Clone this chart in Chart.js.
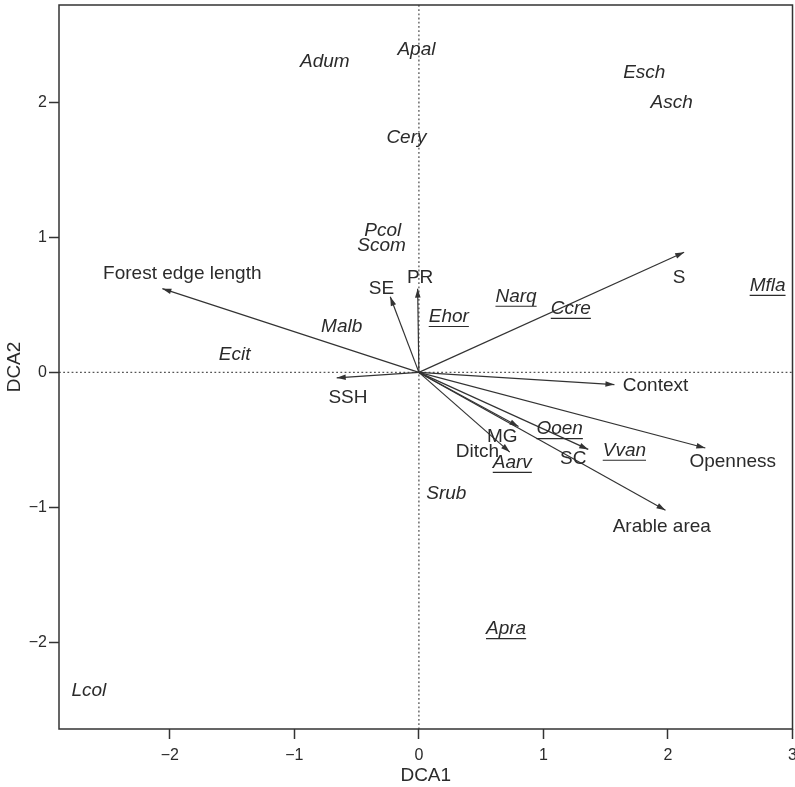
<!DOCTYPE html>
<html>
<head>
<meta charset="utf-8">
<script src="https://cdn.jsdelivr.net/npm/chart.js@4/dist/chart.umd.min.js"></script>
<style>
  body { margin: 0; background: #fff; }
  #wrap { width: 795px; height: 787px; }
</style>
</head>
<body>
<div id="wrap"><canvas id="biplot"></canvas></div>
<script>
// species scores (DCA1, DCA2)
const speciesNames = ['Adum', 'Apal', 'Cery', 'Esch', 'Asch', 'Pcol', 'Scom', 'Malb', 'Ecit', 'Ehor',
    'Narq', 'Ccre', 'Mfla', 'Ooen', 'Vvan', 'Aarv', 'Srub', 'Apra', 'Lcol'];
const speciesX = [-0.755, -0.02, -0.10, 1.81, 2.03, -0.29, -0.30, -0.62, -1.48, 0.24,
    0.78, 1.22, 2.80, 1.13, 1.65, 0.75, 0.22, 0.70, -2.65];
const speciesY = [2.30, 2.39, 1.74, 2.22, 2.00, 1.05, 0.94, 0.34, 0.13, 0.41,
    0.56, 0.47, 0.64, -0.42, -0.58, -0.67, -0.90, -1.90, -2.36];
const underlined = ['Ehor', 'Narq', 'Ccre', 'Mfla', 'Ooen', 'Vvan', 'Aarv', 'Apra'];

// environmental vectors: arrow tips and label spots
const envNames = ['Forest edge length', 'SE', 'PR', 'S', 'Context', 'Openness', 'SC', 'MG', 'Ditch', 'Arable area', 'SSH'];
const envX = [-2.06, -0.23, -0.01, 2.13, 1.57, 2.30, 1.36, 0.80, 0.73, 1.98, -0.66];
const envY = [0.62, 0.56, 0.62, 0.89, -0.09, -0.56, -0.57, -0.40, -0.59, -1.02, -0.04];
const envLabelX = [-1.90, -0.30, 0.01, 2.09, 1.90, 2.52, 1.24, 0.67, 0.47, 1.95, -0.57];
const envLabelY = [0.73, 0.62, 0.70, 0.70, -0.10, -0.66, -0.64, -0.48, -0.59, -1.14, -0.19];

const xTicks = [-2, -1, 0, 1, 2, 3];
const yTicks = [-2, -1, 0, 1, 2];

const ink = '#2b2b2b';
const minus = v => v < 0 ? '\u2212' + Math.abs(v) : String(v);

let datasets = envNames.map((name, i) => ({
    label: name,
    data: [{x: 0, y: 0}, {x: envX[i], y: envY[i]}],
    showLine: true,
    borderColor: '#333',
    borderWidth: 1.2,
    pointRadius: 0
}));
datasets.push({
    label: 'species',
    data: speciesX.map((x, i) => ({x: x, y: speciesY[i]})),
    pointRadius: 0,
    showLine: false
});

const biplotDecor = {
    id: 'biplotDecor',
    beforeDatasetsDraw(chart) {
        const {ctx, chartArea: a, scales: {x, y}} = chart;
        ctx.save();
        ctx.strokeStyle = '#555';
        ctx.lineWidth = 1.3;
        ctx.setLineDash([1.8, 2.4]);
        ctx.beginPath();
        ctx.moveTo(a.left, y.getPixelForValue(0));
        ctx.lineTo(a.right, y.getPixelForValue(0));
        ctx.moveTo(x.getPixelForValue(0), a.top);
        ctx.lineTo(x.getPixelForValue(0), a.bottom);
        ctx.stroke();
        ctx.restore();
    },
    afterDatasetsDraw(chart) {
        const {ctx, chartArea: a, scales: {x, y}} = chart;
        ctx.save();
        // arrow heads
        const ox = x.getPixelForValue(0), oy = y.getPixelForValue(0);
        ctx.fillStyle = '#333';
        envNames.forEach((n, i) => {
            const tx = x.getPixelForValue(envX[i]), ty = y.getPixelForValue(envY[i]);
            const ang = Math.atan2(ty - oy, tx - ox);
            const len = 9, half = 2.8;
            ctx.beginPath();
            ctx.moveTo(tx, ty);
            ctx.lineTo(tx - len * Math.cos(ang) + half * Math.sin(ang), ty - len * Math.sin(ang) - half * Math.cos(ang));
            ctx.lineTo(tx - len * Math.cos(ang) - half * Math.sin(ang), ty - len * Math.sin(ang) + half * Math.cos(ang));
            ctx.closePath();
            ctx.fill();
        });
        // labels
        ctx.fillStyle = ink;
        ctx.textAlign = 'center';
        ctx.textBaseline = 'middle';
        ctx.font = '19px "Liberation Sans", Arial, sans-serif';
        envNames.forEach((n, i) => {
            ctx.fillText(n, x.getPixelForValue(envLabelX[i]), y.getPixelForValue(envLabelY[i]));
        });
        ctx.font = 'italic 19px "Liberation Sans", Arial, sans-serif';
        ctx.strokeStyle = ink;
        ctx.lineWidth = 1.2;
        speciesNames.forEach((n, i) => {
            const px = x.getPixelForValue(speciesX[i]), py = y.getPixelForValue(speciesY[i]);
            ctx.fillText(n, px, py);
            if (underlined.includes(n)) {
                const w = ctx.measureText(n).width;
                ctx.beginPath();
                ctx.moveTo(px - w / 2, py + 9.5);
                ctx.lineTo(px + w / 2, py + 9.5);
                ctx.stroke();
            }
        });
        // box
        ctx.strokeStyle = '#333';
        ctx.lineWidth = 1.5;
        ctx.strokeRect(a.left, a.top, a.right - a.left, a.bottom - a.top);
        ctx.restore();
    }
};

new Chart('biplot', {
    type: 'scatter',
    data: {datasets: datasets},
    plugins: [biplotDecor],
    options: {
        responsive: true,
        maintainAspectRatio: false,
        animation: false,
        layout: {padding: {top: 5, right: 2.5, left: 0, bottom: 0}},
        plugins: {legend: {display: false}, tooltip: {enabled: false}},
        scales: {
            x: {
                type: 'linear', min: -2.89, max: 3.0,
                afterBuildTicks: s => { s.ticks = xTicks.map(v => ({value: v})); },
                afterFit: s => { s.height = 58; s.paddingLeft = 0; s.paddingRight = 0; },
                grid: {drawOnChartArea: false, drawTicks: true, tickLength: 10, tickColor: '#333', tickWidth: 1.5},
                border: {display: false},
                ticks: {color: ink, font: {size: 16, family: '"Liberation Sans", Arial'}, padding: 7,
                    maxRotation: 0, autoSkip: false, callback: v => minus(v)},
                title: {display: true, text: 'DCA1', color: ink, font: {size: 19, family: '"Liberation Sans", Arial'},
                    padding: {top: 0, bottom: 0}}
            },
            y: {
                type: 'linear', min: -2.64, max: 2.72,
                afterBuildTicks: s => { s.ticks = yTicks.map(v => ({value: v})); },
                afterFit: s => { s.width = 59; s.paddingTop = 0; s.paddingBottom = 0; },
                grid: {drawOnChartArea: false, drawTicks: true, tickLength: 10, tickColor: '#333', tickWidth: 1.5},
                border: {display: false},
                ticks: {color: ink, font: {size: 16, family: '"Liberation Sans", Arial'}, padding: 2,
                    callback: v => minus(v)},
                title: {display: true, text: 'DCA2', color: ink, font: {size: 19, family: '"Liberation Sans", Arial'},
                    padding: {top: 3, bottom: 0}}
            }
        }
    }
});
</script>
</body>
</html>
